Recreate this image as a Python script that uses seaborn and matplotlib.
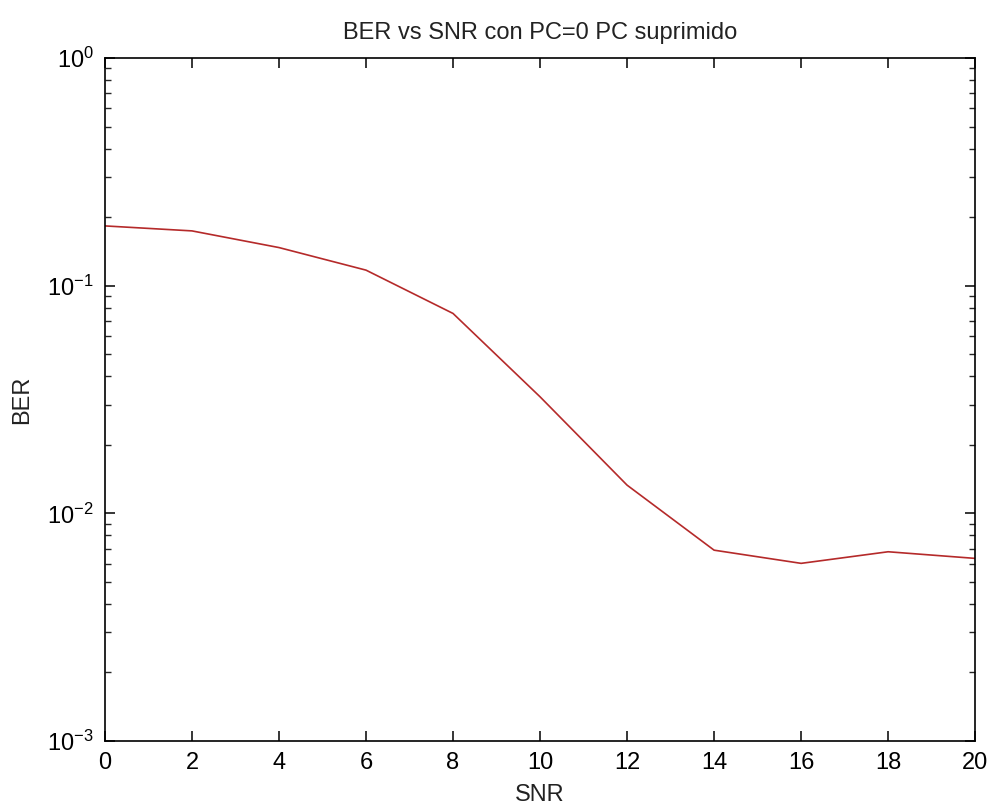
import matplotlib
matplotlib.use("Agg")
import matplotlib.pyplot as plt
import seaborn as sns
import pandas as pd
from matplotlib.ticker import LogLocator, NullFormatter

# Data
snr = [0, 2, 4, 6, 8, 10, 12, 14, 16, 18, 20]
ber = [0.183, 0.174, 0.147, 0.117, 0.0755, 0.0325, 0.0133, 0.00689, 0.00603, 0.00678, 0.00634]
x_ticks = [0, 2, 4, 6, 8, 10, 12, 14, 16, 18, 20]
title = "BER vs SNR con PC=0 PC suprimido"
x_label = "SNR"
y_label = "BER"

sns.set_style("ticks")
plt.rcParams["font.family"] = ["Liberation Sans", "DejaVu Sans"]
plt.rcParams["mathtext.fontset"] = "custom"
plt.rcParams["mathtext.rm"] = "Liberation Sans"
plt.rcParams["mathtext.it"] = "Liberation Sans"
plt.rcParams["axes.unicode_minus"] = False
plt.rcParams["text.color"] = "black"
plt.rcParams["axes.labelcolor"] = "black"

df = pd.DataFrame({"SNR": snr, "BER": ber})

fig = plt.figure(figsize=(9.9, 8.11), dpi=100)
ax = fig.add_axes([0.106, 0.0863, 0.879, 0.8422])

sns.lineplot(data=df, x="SNR", y="BER", ax=ax, color="#b52a2a", linewidth=1.2)

ax.set_yscale("log")
ax.set_xlim(0, 20)
ax.set_ylim(1e-3, 1e0)
ax.set_xticks(x_ticks)
ax.set_xticklabels([str(v) for v in x_ticks])
ax.yaxis.set_major_locator(LogLocator(base=10, numticks=10))
ax.yaxis.set_minor_locator(LogLocator(base=10, subs=range(2, 10), numticks=20))
ax.yaxis.set_minor_formatter(NullFormatter())

for s in ["top", "right", "left", "bottom"]:
    ax.spines[s].set_visible(True)
    ax.spines[s].set_linewidth(1.2)
    ax.spines[s].set_color("black")

ax.tick_params(axis="both", which="major", direction="in", length=7, width=1.1,
               top=True, right=True, labelsize=17, pad=8, colors="black")
ax.tick_params(axis="y", which="minor", direction="in", length=4, width=1.0,
               left=True, right=True)
ax.tick_params(axis="x", which="minor", bottom=False, top=False)

ax.set_title(title, fontsize=17, pad=14, color="#222222")
ax.set_xlabel(x_label, fontsize=17, labelpad=7, color="#222222")
ax.set_ylabel(y_label, fontsize=17, labelpad=10, color="#222222")
ax.grid(False)

fig.savefig("out.png", dpi=100, facecolor="white")
